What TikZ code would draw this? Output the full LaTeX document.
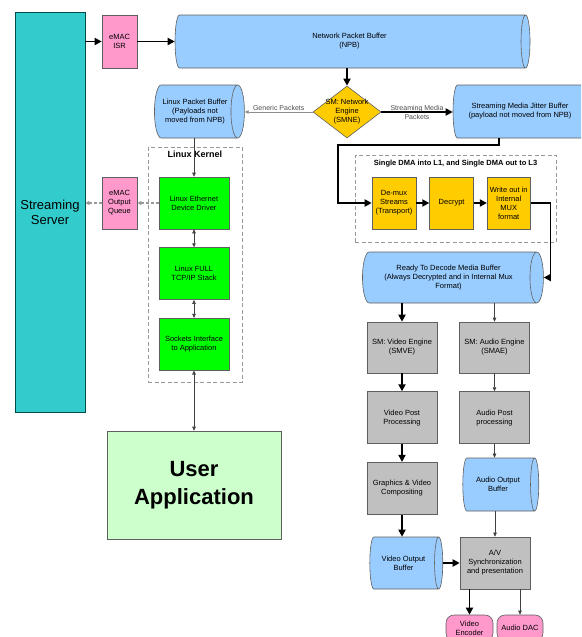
\documentclass[tikz,border=0pt]{standalone}
\usepackage{fontspec}
\setmainfont{Liberation Sans}
\usepackage{tikz}
\usetikzlibrary{shapes.geometric, arrows.meta, positioning, calc}
\definecolor{ServerTeal}{HTML}{33CCCC}
\definecolor{MacPink}{HTML}{FF99CC}
\definecolor{BufBlue}{HTML}{99CCFF}
\definecolor{EngineGold}{HTML}{FFCC00}
\definecolor{KernelGreen}{HTML}{00FF00}
\definecolor{PipeGray}{HTML}{C0C0C0}
\definecolor{AppGreen}{HTML}{CCFFCC}
\definecolor{EdgeGray}{HTML}{5F5F5F}

\tikzset{
    box/.style={draw=EdgeGray, line width=0.6pt, align=center, inner sep=1pt,
                font=\fontsize{7.5}{9}\selectfont},
    % for the cylinder: height runs along its axis, width across it
    buffer/.style={cylinder, shape aspect=0.5, cylinder uses custom fill,
                cylinder body fill=BufBlue, cylinder end fill=BufBlue,
                draw=EdgeGray, line width=0.6pt, align=center, inner sep=1pt,
                font=\fontsize{7.5}{9}\selectfont},
    engine/.style={diamond, draw=EdgeGray, fill=EngineGold, line width=0.6pt,
                inner sep=0pt, minimum width=68, minimum height=52},
    dashbox/.style={draw=black!40, dash pattern=on 4pt off 2.5pt, line width=0.9pt,
                inner sep=0pt},
    boxtitle/.style={font=\bfseries\fontsize{7.5}{9}\selectfont, inner sep=1pt},
    bigarrow/.style={-{Triangle[length=7pt,width=7pt]}, line width=1.8pt},
    thinarrow/.style={-{Triangle[length=4pt,width=3.5pt]}, line width=0.6pt, draw=black!75},
    twoway/.style={{Triangle[length=4pt,width=3.5pt]}-{Triangle[length=4pt,width=3.5pt]},
                line width=0.6pt, draw=black!75},
    sidearrow/.style={-{Triangle[length=4pt,width=4pt]}, line width=1.1pt, draw=black!40,
                dash pattern=on 3pt off 2pt},
}

\begin{document}
\begin{tikzpicture}[x=1pt, y=-1pt]
    \useasboundingbox (0,0) rectangle (581,637);
    \clip (0,0) rectangle (581,637);

    % Dashed groups
    \node (kernel) [dashbox, minimum width=94, minimum height=235] at (195,264.5) {};
    \node (kerneltitle) [boxtitle, font=\bfseries\fontsize{9}{11}\selectfont, below=3pt of kernel.north] {Linux Kernel};
    \node (dma) [dashbox, minimum width=201, minimum height=87] at (455.5,198.5) {};
    \node (dmatitle) [boxtitle, below=4pt of dma.north] {Single DMA into L1, and Single DMA out to L3};

    % Server side
    \node (server) [box, fill=ServerTeal, draw=teal!60!black, minimum width=70, minimum height=400,
                    font=\fontsize{13}{15}\selectfont] at (50,212) {Streaming\\Server};
    \node (isr) [box, fill=MacPink, minimum width=35, minimum height=53] at (119.5,41.5) {eMAC\\ISR};
    \node (queue) [box, fill=MacPink, minimum width=35, minimum height=52] at (119.5,203) {eMAC\\Output\\Queue};

    % Buffers and network engine
    \node (npb) [buffer, minimum height=355, minimum width=53] at (349.5,41.5) {Network Packet Buffer\\(NPB)};
    \node (smne) [engine] at (347,112) {};
    \node (smnetext) [align=center, font=\fontsize{7.5}{9}\selectfont] at (smne) {SM: Network\\Engine\\(SMNE)};
    \node (lpb) [buffer, minimum height=90, minimum width=53] at (195,111.5) {Linux Packet Buffer\\(Payloads not\\moved from NPB)};
    \node (smjb) [buffer, minimum height=140, minimum width=53] at (520,111.5) {Streaming Media Jitter Buffer\\(payload not moved from NPB)};

    % Kernel stack
    \node (eth) [box, fill=KernelGreen, minimum width=70, minimum height=52] at (194,203) {Linux Ethernet\\Device Driver};
    \node (tcp) [box, fill=KernelGreen, minimum width=70, minimum height=52, below=18pt of eth] {Linux FULL\\TCP/IP Stack};
    \node (sock) [box, fill=KernelGreen, minimum width=70, minimum height=52, below=18pt of tcp] {Sockets Interface\\to Application};
    \node (user) [box, fill=AppGreen, minimum width=174, minimum height=108,
                  font=\bfseries\fontsize{22}{28}\selectfont] at (194,485) {User\\Application};

    % DMA pipeline
    \node (demux) [box, fill=EngineGold, minimum width=44, minimum height=52] at (394,203) {De-mux\\Streams\\(Transport)};
    \node (decrypt) [box, fill=EngineGold, minimum width=44, minimum height=52, right=13pt of demux] {Decrypt};
    \node (writeout) [box, fill=EngineGold, minimum width=43, minimum height=52, right=13pt of decrypt] {Write out in\\Internal\\MUX\\format};
    \node (rtd) [buffer, minimum height=181, minimum width=51] at (448.5,277.5) {Ready To Decode Media Buffer\\(Always Decrypted and in Internal Mux\\Format)};

    % Video / audio engines
    \node (smve) [box, fill=PipeGray, minimum width=70, minimum height=51] at (402,347.5) {SM: Video Engine\\(SMVE)};
    \node (vpp) [box, fill=PipeGray, minimum width=70, minimum height=52, below=18pt of smve] {Video Post\\Processing};
    \node (gfx) [box, fill=PipeGray, minimum width=70, minimum height=52, below=18pt of vpp] {Graphics \& Video\\Compositing};
    \node (smae) [box, fill=PipeGray, minimum width=70, minimum height=51] at (494.5,347.5) {SM: Audio Engine\\(SMAE)};
    \node (app) [box, fill=PipeGray, minimum width=70, minimum height=52, below=18pt of smae] {Audio Post\\processing};
    \node (aob) [buffer, minimum height=76, minimum width=53] at (498,484.5) {Audio Output\\Buffer};
    \node (vob) [buffer, minimum height=73, minimum width=52] at (403.5,563) {Video Output\\Buffer};
    \node (av) [box, fill=PipeGray, minimum width=70, minimum height=52] at (495,563) {A/V\\Synchronization\\and presentation};
    \node (venc) [box, fill=MacPink, rounded corners=8pt, minimum width=47, minimum height=26] at (469.5,628) {Video\\Encoder};
    \node (adac) [box, fill=MacPink, rounded corners=8pt, minimum width=46, minimum height=26] at (520,628) {Audio DAC};

    % Network path
    \draw[bigarrow] (server.east |- isr.west) -- (isr.west);
    \draw[bigarrow] (isr.east) -- (npb.west);
    \draw[bigarrow] (smne.north |- npb.south) -- (smne.north);
    \draw[thinarrow, draw=black!45] (smne.west) -- (smne.west -| lpb.east)
        node (generic) [midway, above, inner sep=1pt, text=black!70, font=\fontsize{7}{8}\selectfont] {Generic Packets};
    \draw[bigarrow] (smne.east) -- (smne.east -| smjb.west)
        node (mediapkts) [midway, align=center, inner sep=0pt, text=black!70, font=\fontsize{7}{9}\selectfont] {Streaming Media\\Packets};
    \draw[bigarrow] ([xshift=-21pt]smjb.south) |- (338,145) |- (demux.west);
    \draw[bigarrow] (demux) -- (decrypt);
    \draw[bigarrow] (decrypt) -- (writeout);
    \draw[bigarrow] (writeout.east) -- ++(20,0) |- (rtd.east);

    % Decode path
    \draw[bigarrow] (smve.north |- rtd.south) -- (smve.north);
    \draw[thinarrow] (smae.north |- rtd.south) -- (smae.north);
    \draw[bigarrow] (smve) -- (vpp);
    \draw[bigarrow] (vpp) -- (gfx);
    \draw[bigarrow] (gfx.south) -- (gfx.south |- vob.north);
    \draw[thinarrow] (smae) -- (app);
    \draw[thinarrow] (app.south) -- (app.south |- aob.north);
    \draw[thinarrow] (av.north |- aob.south) -- (av.north);
    \draw[bigarrow] (vob.east) -- (vob.east -| av.west);
    \draw[bigarrow] (venc.north |- av.south) -- (venc.north);
    \draw[thinarrow] (adac.north |- av.south) -- (adac.north);

    % Kernel path
    \draw[thinarrow] (eth.north |- lpb.south) -- (eth.north);
    \draw[twoway] (eth) -- (tcp);
    \draw[twoway] (tcp) -- (sock);
    \draw[twoway] (sock) -- (user);
    \draw[sidearrow] (eth) -- (queue);
    \draw[sidearrow] (queue.west) -- (queue.west -| server.east);
\end{tikzpicture}
\end{document}
